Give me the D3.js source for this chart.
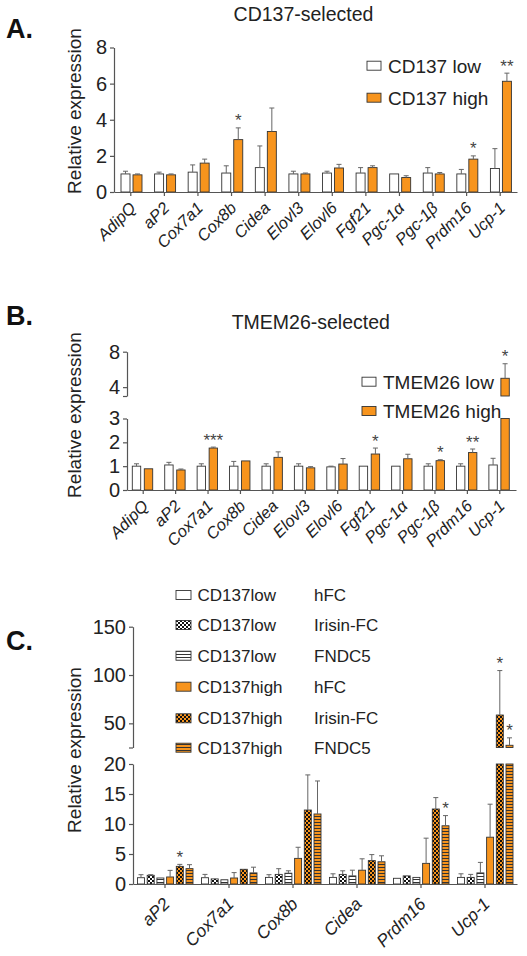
<!DOCTYPE html>
<html><head><meta charset="utf-8">
<script src="https://cdn.jsdelivr.net/npm/d3@7"></script>
<style>
body{margin:0;background:#fff}
svg{display:block}
text{font-family:Arial,"Liberation Sans",Helvetica,sans-serif}
</style>
</head><body>
<svg id="chart" width="527" height="956"></svg>
<script>
// ---------------- DATA ----------------
const genesAB = ["AdipQ","aP2","Cox7a1","Cox8b","Cidea","Elovl3","Elovl6","Fgf21","Pgc-1α","Pgc-1β","Prdm16","Ucp-1"];

// Panel A: CD137-selected
const aLow      = [1.0, 1.0, 1.1, 1.05, 1.35, 1.0, 1.05, 1.05, 1.0, 1.05, 1.0, 1.3];
const aLowSem   = [0.15,0.1, 0.4, 0.4, 1.2, 0.15,0.1, 0.3, 0,   0.3, 0.25,1.1];
const aHigh     = [0.95,0.95,1.6, 2.9, 3.35,1.0, 1.33,1.35,0.8, 1.0, 1.82,6.13];
const aHighSem  = [0.05,0.05,0.22,0.65,1.3, 0.05,0.2, 0.1, 0.1, 0.08,0.18,0.45];
const aHighStars= ["","","","*","","","","","","","*","**"];

// Panel B: TMEM26-selected
const bLow      = [1.0, 1.05,1.0, 1.0, 1.0, 1.0, 0.97,1.0, 1.0, 1.0, 1.0, 1.05];
const bLowSem   = [0.1, 0.11,0.1, 0.2, 0.1, 0.1, 0.03,0,   0,   0.1, 0.1, 0.28];
const bHigh     = [0.89,0.84,1.76,1.22,1.37,0.93,1.09,1.51,1.31,1.23,1.57,5.0];
const bHighSem  = [0,   0.04,0.04,0,   0.23,0.05,0.23,0.25,0.19,0.04,0.15,1.64];
const bHighStars= ["","","***","","","","","*","","*","**","*"];

// Panel C
const genesC = ["aP2","Cox7a1","Cox8b","Cidea","Prdm16","Ucp-1"];
const cLowHFC        = [1.05,1.05,1.1, 1.1, 0.95,1.1];
const cLowHFCSem     = [0.5, 0.55,0.45,0.6, 0,   0.6];
const cLowIrisin     = [1.45,0.85,1.6, 1.6, 1.35,1.1];
const cLowIrisinSem  = [0.1, 0,   0.95,0.6, 0,   0.5];
const cLowFNDC5      = [1.0, 0.7, 1.8, 1.35,1.1, 1.85];
const cLowFNDC5Sem   = [0,   0,   0.4, 0.95,0,   1.75];
const cHighHFC       = [1.17,1.0, 4.27,2.3, 3.44,7.8];
const cHighHFCSem    = [1.1, 0.9, 1.85,1.9, 4.2, 5.5];
const cHighIrisin    = [2.94,2.45,12.33,3.9,12.5,58.6];
const cHighIrisinSem = [0.33,0,   5.85,1.0, 1.9, 46];
const cHighFNDC5     = [2.56,1.85,11.67,3.7,9.7, 27.3];
const cHighFNDC5Sem  = [0.66,0.95,5.5, 1.0, 1.7, 7.7];
const cHighIrisinStars = ["*","","","","","*"];
const cHighFNDC5Stars  = ["","","","","*","*"];

const ticksA = [0,2,4,6,8];
const ticksBLow = [0,1,2,3], ticksBHigh = [4,8];
const ticksCLow = [0,5,10,15,20], ticksCHigh = [50,100,150];

// ---------------- STYLE ----------------
const ORANGE = "#F7941D";
const AXIS = "#555";
const svg = d3.select("#chart");
const defs = svg.append("defs");

function checker(id, bg){
  const p = defs.append("pattern").attr("id",id).attr("patternUnits","userSpaceOnUse")
    .attr("width",4).attr("height",4);
  p.append("rect").attr("width",4).attr("height",4).attr("fill",bg);
  p.append("rect").attr("width",2).attr("height",2).attr("fill","#111");
  p.append("rect").attr("x",2).attr("y",2).attr("width",2).attr("height",2).attr("fill","#111");
}
function stripes(id, bg){
  const p = defs.append("pattern").attr("id",id).attr("patternUnits","userSpaceOnUse")
    .attr("width",4).attr("height",3);
  p.append("rect").attr("width",4).attr("height",3).attr("fill",bg);
  p.append("rect").attr("y",0).attr("width",4).attr("height",1).attr("fill","#333");
}
checker("chkW","#fff"); checker("chkO",ORANGE);
stripes("strW","#fff"); stripes("strO",ORANGE);

const FILLS = {
  white:"#fff", orange:ORANGE,
  chkW:"url(#chkW)", chkO:"url(#chkO)", strW:"url(#strW)", strO:"url(#strO)"
};

function drawPanel(p){
  const g = svg.append("g");
  const x = d3.scaleBand().domain(p.cats).range([p.x0, p.x1]);
  const inner = d3.scaleBand().domain(p.series.map((s,i)=>i)).range(p.innerRange).paddingInner(p.innerPad);
  const segs = p.segments.map(s => Object.assign({}, s, {scale: d3.scaleLinear().domain(s.d).range(s.r)}));

  // y axis segments
  segs.forEach(s => {
    const vals = s.endTick ? [s.d[0]].concat(s.ticks) : s.ticks;
    const ax = d3.axisLeft(s.scale).tickValues(vals).tickSize(4).tickSizeOuter(0).tickPadding(3)
      .tickFormat(d => (s.endTick && d === s.d[0]) ? "" : d);
    const ag = g.append("g").attr("transform",`translate(${p.x0},0)`).call(ax);
    ag.select(".domain").attr("stroke",AXIS).attr("stroke-width",1.2);
    ag.selectAll(".tick line").attr("stroke",AXIS).attr("stroke-width",1.2);
    ag.selectAll(".tick text").attr("font-size",20).attr("fill","#222")
      .attr("font-family",'Arial,"Liberation Sans",sans-serif');
  });

  // bars
  p.cats.forEach((c, ci) => {
    p.series.forEach((s, si) => {
      const v = s.values[ci], sem = s.sem[ci];
      const bx = x(c) + inner(si), bw = inner.bandwidth(), cx = bx + bw/2;
      let vSeg = segs[0];
      segs.forEach(sg => {
        if (v > sg.d[0]) {
          const top = Math.min(v, sg.d[1]);
          g.append("rect").attr("x",bx).attr("y",sg.scale(top))
            .attr("width",bw).attr("height",sg.scale(sg.d[0]) - sg.scale(top))
            .attr("fill",FILLS[s.fill]).attr("stroke","#333").attr("stroke-width",0.9);
          vSeg = sg;
        }
      });
      const yv = vSeg.scale(v);
      const yt = vSeg.scale(v + sem);
      if (sem > 0) {
        g.append("line").attr("x1",cx).attr("x2",cx).attr("y1",yv).attr("y2",yt)
          .attr("stroke","#666").attr("stroke-width",1);
        g.append("line").attr("x1",cx-2.5).attr("x2",cx+2.5).attr("y1",yt).attr("y2",yt)
          .attr("stroke","#666").attr("stroke-width",1);
      }
      if (s.stars && s.stars[ci]) {
        g.append("text").attr("x",cx).attr("y",yt - 1.5).attr("text-anchor","middle")
          .attr("font-size",17).attr("fill","#444").text(s.stars[ci]);
      }
    });
  });

  // x axis
  const xa = d3.axisBottom(x).tickSize(4).tickSizeOuter(0).tickFormat("");
  const xg = g.append("g").attr("transform",`translate(0,${p.axisY})`).call(xa);
  xg.select(".domain").attr("stroke",AXIS).attr("stroke-width",1.2);
  xg.selectAll(".tick line").attr("stroke",AXIS).attr("stroke-width",1.2);
  p.cats.forEach(c => {
    const cx = x(c) + x.bandwidth()/2 + p.lblDx;
    const cy = p.axisY + p.lblDy;
    g.append("text").attr("transform",`translate(${cx},${cy}) rotate(-45)`)
      .attr("text-anchor","end").attr("font-size",p.lblSize).attr("font-style","italic")
      .attr("fill","#222").text(c);
  });

  // y label
  g.append("text").attr("transform",`translate(${p.ylabX},${p.ylabY}) rotate(-90)`)
    .attr("text-anchor","middle").attr("font-size",19).attr("fill","#222").text("Relative expression");
  return g;
}

function letter(t, y){
  svg.append("text").attr("x",6).attr("y",y).attr("font-size",27).attr("font-weight","bold")
    .attr("fill","#111").text(t);
}
function title(t, x, y){
  svg.append("text").attr("x",x).attr("y",y).attr("text-anchor","middle").attr("font-size",19.5)
    .attr("fill","#222").text(t);
}
function legendItem(x, yc, fill, labels, size, boxW, xs){
  svg.append("rect").attr("x",x).attr("y",yc-4.5).attr("width",boxW).attr("height",9)
    .attr("fill",FILLS[fill]).attr("stroke","#333").attr("stroke-width",0.9);
  labels.forEach((l,i)=>{
    svg.append("text").attr("x",xs[i]).attr("y",yc + size*0.36).attr("font-size",size)
      .attr("fill","#222").text(l);
  });
}

// ---------------- PANEL A ----------------
letter("A.", 38);
title("CD137-selected", 303.5, 21);
drawPanel({
  cats: genesAB, x0:114, x1:517, axisY:192,
  segments:[{d:[0,8], r:[192,47.5], ticks:ticksA}],
  series:[{values:aLow, sem:aLowSem, fill:"white"},
          {values:aHigh, sem:aHighSem, fill:"orange", stars:aHighStars}],
  innerRange:[7,28], innerPad:0.25,
  lblDx:6, lblDy:17, lblSize:16.5, ylabX:81, ylabY:111
});
legendItem(367, 65.7, "white", ["CD137 low"], 19, 14, [388]);
legendItem(367, 97.7, "orange", ["CD137 high"], 19, 14, [388]);

// ---------------- PANEL B ----------------
letter("B.", 325);
title("TMEM26-selected", 310.8, 328.5);
drawPanel({
  cats: genesAB, x0:127, x1:516, axisY:490,
  segments:[{d:[0,3], r:[490,418.5], ticks:ticksBLow},
            {d:[3,8], r:[396,351.7], ticks:ticksBHigh, endTick:true}],
  series:[{values:bLow, sem:bLowSem, fill:"white"},
          {values:bHigh, sem:bHighSem, fill:"orange", stars:bHighStars}],
  innerRange:[5.3,25.7], innerPad:0.3,
  lblDx:6, lblDy:17, lblSize:16.5, ylabX:81, ylabY:415
});
legendItem(362, 381.7, "white", ["TMEM26 low"], 19, 14, [383]);
legendItem(362, 411, "orange", ["TMEM26 high"], 19, 14, [383]);

// ---------------- PANEL C ----------------
letter("C.", 650);
drawPanel({
  cats: genesC, x0:133, x1:517, axisY:884,
  segments:[{d:[0,20], r:[884,764], ticks:ticksCLow},
            {d:[25,150], r:[747.5,626.7], ticks:ticksCHigh, endTick:true}],
  series:[{values:cLowHFC, sem:cLowHFCSem, fill:"white"},
          {values:cLowIrisin, sem:cLowIrisinSem, fill:"chkW"},
          {values:cLowFNDC5, sem:cLowFNDC5Sem, fill:"strW"},
          {values:cHighHFC, sem:cHighHFCSem, fill:"orange"},
          {values:cHighIrisin, sem:cHighIrisinSem, fill:"chkO", stars:cHighIrisinStars},
          {values:cHighFNDC5, sem:cHighFNDC5Sem, fill:"strO", stars:cHighFNDC5Stars}],
  innerRange:[4.5,60], innerPad:0.28,
  lblDx:6, lblDy:21, lblSize:17.5, ylabX:81, ylabY:750
});
const legC = [
  ["white","CD137low","hFC",595],
  ["chkW","CD137low","Irisin-FC",625],
  ["strW","CD137low","FNDC5",655.7],
  ["orange","CD137high","hFC",686.7],
  ["chkO","CD137high","Irisin-FC",718.3],
  ["strO","CD137high","FNDC5",747.7]
];
legC.forEach(r => legendItem(176, r[3], r[0], [r[1], r[2]], 17, 15, [197.5, 314]));
</script>
</body></html>
